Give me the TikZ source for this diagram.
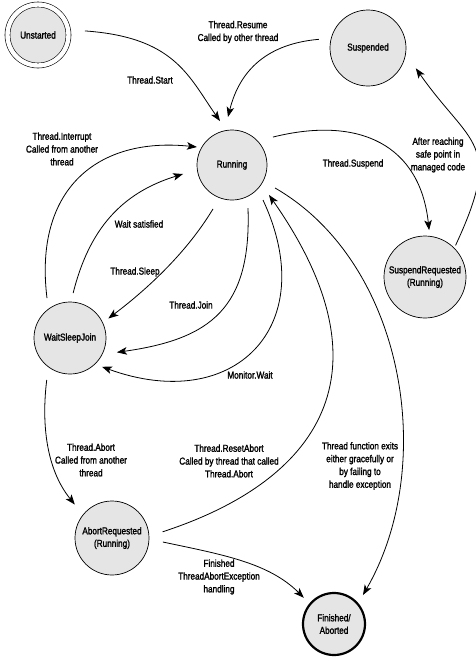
\documentclass[tikz,border=0pt]{standalone}
\usepackage{fontspec}
\setmainfont{Liberation Sans}[FakeStretch=0.82,FakeBold=1.6]
\usetikzlibrary{arrows.meta}
\begin{document}
\begin{tikzpicture}[x=1pt,y=1pt,
  state/.style={circle, draw, line width=0.7pt, fill=gray!20, inner sep=0pt, align=center, font=\fontsize{10}{12.5}\selectfont},
  lbl/.style={align=center, inner sep=0pt, font=\fontsize{10}{12.8}\selectfont},
  arr/.style={line width=0.8pt, -{Stealth[length=10pt,width=7.5pt,inset=2.5pt]}}]
\useasboundingbox (0,0) rectangle (476,-657);
% states
\node[state, minimum size=61pt, line width=0.6pt, double=white, double distance=4.4pt] (U) at (38,-35) {Unstarted};
\node[state, minimum size=76pt] (S) at (368,-48) {Suspended};
\node[state, minimum size=70pt] (R) at (232,-165) {Running};
\node[state, minimum size=82pt] (SR) at (425,-277) {SuspendRequested\\(Running)};
\node[state, minimum size=72pt] (W) at (70,-338) {WaitSleepJoin};
\node[state, minimum size=74pt] (A) at (112,-538) {AbortRequested\\(Running)};
\node[state, minimum size=62pt, line width=2.2pt] (F) at (334,-624) {Finished/\\Aborted};
% connectors
\draw[arr] ([shift={(5:47pt)}]U.center) .. controls +(-4:90pt) and +(125:55pt) .. ([shift={(105.3:45.6pt)}]R.center);
\draw[arr] ([shift={(170:50pt)}]S.center) .. controls +(185:50pt) and +(76:50pt) .. ([shift={(94.8:48.2pt)}]R.center);
\draw[arr] ([shift={(34.3:49.6pt)}]R.center) .. controls +(14:90pt) and +(96:85pt) .. ([shift={(85:47pt)}]SR.center);
\draw[arr] ([shift={(46:44pt)}]SR.center) .. controls +(65:115pt) and +(-55:95pt) .. ([shift={(-23:52pt)}]S.center);
\draw[arr] ([shift={(120:46pt)}]W.center) .. controls +(97:110pt) and +(174:100pt) .. ([shift={(152.8:39.4pt)}]R.center);
\draw[arr] ([shift={(86:45pt)}]W.center) .. controls +(76:65pt) and +(197:65pt) .. ([shift={(190.4:49.8pt)}]R.center);
\draw[arr] ([shift={(246.6:47.9pt)}]R.center) .. controls +(-121:50pt) and +(37:50pt) .. ([shift={(27:43pt)}]W.center);
\draw[arr] ([shift={(-69.6:45.9pt)}]R.center) .. controls +(-88:100pt) and +(8:95pt) .. ([shift={(-17:49pt)}]W.center);
\draw[arr] ([shift={(-48.5:46.8pt)}]R.center) .. controls +(-65:140pt) and +(-20:140pt) .. ([shift={(-42:43pt)}]W.center);
\draw[arr] ([shift={(7:51pt)}]A.center) .. controls +(18:150pt) and +(-55:230pt) .. ([shift={(-39:47.6pt)}]R.center);
\draw[arr] ([shift={(-28.1:48.8pt)}]R.center) .. controls +(-30:150pt) and +(60:150pt) .. ([shift={(45:41pt)}]F.center);
\draw[arr] ([shift={(-119:48pt)}]W.center) .. controls +(-97:45pt) and +(129:45pt) .. ([shift={(138:50pt)}]A.center);
\draw[arr] ([shift={(-4.5:51pt)}]A.center) .. controls +(-12:60pt) and +(135:50pt) .. ([shift={(139:40pt)}]F.center);
% labels
\node[lbl] (l1) at (150,-80) {Thread.Start};
\node[lbl] (l2) at (238,-32) {Thread.Resume\\Called by other thread};
\node[lbl] (l3) at (353,-164) {Thread.Suspend};
\node[lbl] (l4) at (438,-155) {After reaching\\safe point in\\managed code};
\node[lbl] (l5) at (62,-149) {Thread.Interrupt\\Called from another\\thread};
\node[lbl] (l6) at (139,-224) {Wait satisfied};
\node[lbl] (l7) at (135,-272) {Thread.Sleep};
\node[lbl] (l8) at (191,-305) {Thread.Join};
\node[lbl] (l9) at (250,-375) {Monitor.Wait};
\node[lbl] (l10) at (91,-460) {Thread.Abort\\Called from another\\thread};
\node[lbl] (l11) at (229,-461) {Thread.ResetAbort\\Called by thread that called\\Thread.Abort};
\node[lbl] (l12) at (360,-466) {Thread function exits\\either gracefully or\\by failing to\\handle exception};
\node[lbl] (l13) at (219,-577) {Finished\\ThreadAbortException\\handling};
\end{tikzpicture}
\end{document}
